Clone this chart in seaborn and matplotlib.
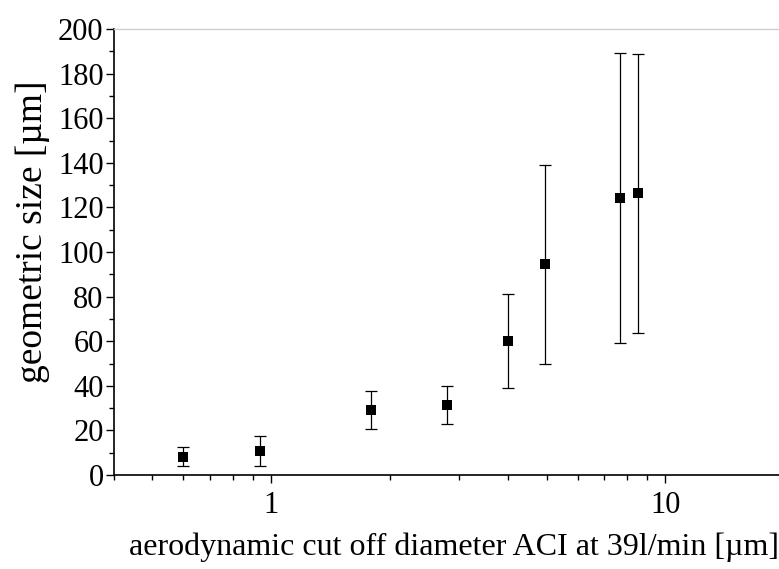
import numpy as np
import pandas as pd
import matplotlib
matplotlib.use("Agg")
import matplotlib.pyplot as plt
import matplotlib.ticker as mticker
import seaborn as sns

# data
cut_off_diameter = [0.6, 0.94, 1.79, 2.8, 4.0, 4.95, 7.67, 8.54]
geometric_size = [8.2, 10.9, 29.1, 31.4, 60.1, 94.5, 124.2, 126.3]
size_error = [4.3, 6.7, 8.5, 8.6, 21.2, 44.7, 65.2, 62.6]
y_ticks = [0, 20, 40, 60, 80, 100, 120, 140, 160, 180, 200]
x_tick_values = [1, 10]
x_tick_labels = ["1", "10"]

df = pd.DataFrame({"x": cut_off_diameter, "y": geometric_size, "err": size_error})

sns.set_theme(style="ticks")
plt.rcParams["font.family"] = ["Liberation Serif", "DejaVu Serif"]

fig = plt.figure(figsize=(7.79, 5.69), dpi=100)
ax = fig.add_axes([114 / 779, 1 - 475 / 569, 1 - 114 / 779, (475 - 29) / 569])

ax.errorbar(df["x"], df["y"], yerr=df["err"], fmt="none", ecolor="black",
            elinewidth=0.9, capsize=4.5, capthick=0.9, zorder=2)
sns.scatterplot(data=df, x="x", y="y", marker="s", s=55, color="black",
                edgecolor="black", linewidth=0, ax=ax, zorder=3)

ax.set_xscale("log")
ax.set_xlim(0.4, 19.4)
ax.set_ylim(0, 200)

ax.xaxis.set_major_locator(mticker.FixedLocator(x_tick_values))
ax.xaxis.set_major_formatter(mticker.FixedFormatter(x_tick_labels))
ax.xaxis.set_minor_locator(mticker.LogLocator(base=10, subs=np.arange(2, 10)))
ax.xaxis.set_minor_formatter(mticker.NullFormatter())

ax.set_yticks(y_ticks)
ax.yaxis.set_minor_locator(mticker.MultipleLocator(10))

ax.tick_params(axis="both", which="major", direction="out", length=5.5, width=1,
               color="black", labelsize=22, labelcolor="black")
ax.tick_params(axis="both", which="minor", direction="out", length=3.5, width=1,
               color="black")
ax.tick_params(axis="x", which="major", pad=6)
ax.tick_params(axis="y", which="major", pad=2)

for side in ["left", "bottom"]:
    ax.spines[side].set_color("black")
    ax.spines[side].set_linewidth(1.2)
ax.spines["top"].set_color("#d0d0d0")
ax.spines["top"].set_linewidth(1.0)
ax.spines["right"].set_visible(False)

ax.set_xlabel("aerodynamic cut off diameter ACI at 39l/min [µm]", fontsize=23,
              color="black", labelpad=9)
ax.xaxis.label.set_x(0.512)
ax.set_ylabel("geometric size [µm]", fontsize=27, color="black")
ax.yaxis.set_label_coords(-0.096, 0.545)

fig.savefig("out.png", dpi=100)
